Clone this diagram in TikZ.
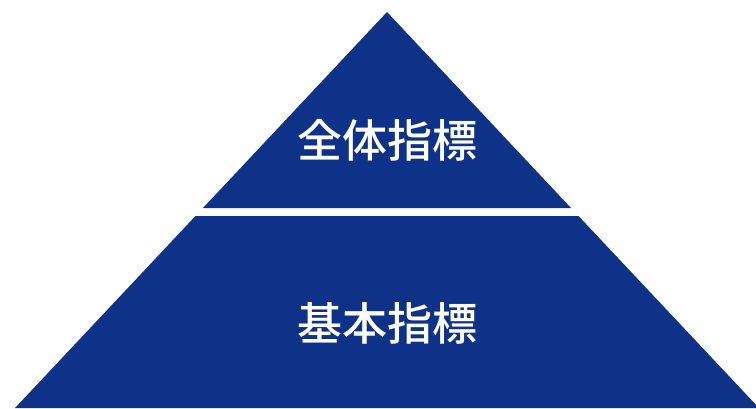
\documentclass[tikz,border=0pt]{standalone}
\usepackage{fontspec}
\newfontfamily\cjk{Noto Sans CJK JP Medium}
\definecolor{pyblue}{RGB}{14,50,136}
\begin{document}
\begin{tikzpicture}[x=1pt,y=-1pt,
  tier/.style={fill=pyblue,draw=none},
  lbl/.style={text=white,font=\cjk\fontsize{45}{54}\selectfont,inner sep=0pt}]
\useasboundingbox (0,0) rectangle (756,408);
\fill[tier] (387,12) -- (571,208) -- (203,208) -- cycle;
\fill[tier] (195.5,216) -- (578.5,216) -- (759,408) -- (15,408) -- cycle;
\node[lbl] (top) at (387,140) {全体指標};
\node[lbl] (base) at (387,323) {基本指標};
\end{tikzpicture}
\end{document}
